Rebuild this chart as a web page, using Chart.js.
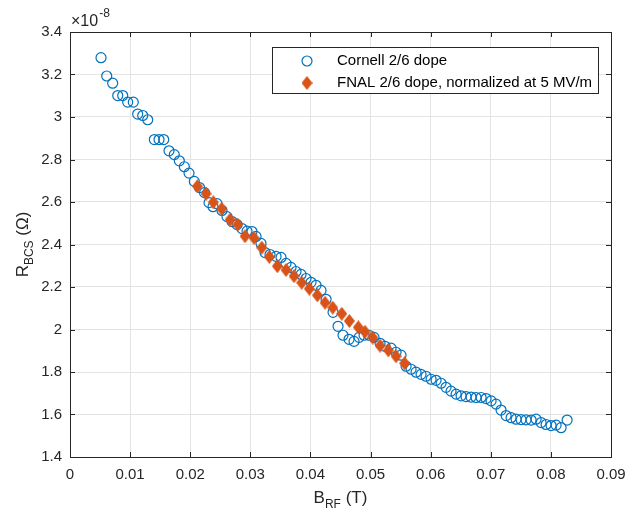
<!DOCTYPE html>
<html>
<head>
<meta charset="utf-8">
<script src="https://cdn.jsdelivr.net/npm/chart.js@4/dist/chart.umd.min.js"></script>
<style>
  html, body { margin: 0; padding: 0; background: #fff; }
  #wrap { width: 630px; height: 512px; }
</style>
</head>
<body>
<div id="wrap"><canvas id="c" width="630" height="512"></canvas></div>
<script>
// ---- Data (R_BCS in units of 1e-8 Ohm) ----
const yExponent = -8;
const xTicks = [0, 0.01, 0.02, 0.03, 0.04, 0.05, 0.06, 0.07, 0.08, 0.09];
const xTickLabels = ['0', '0.01', '0.02', '0.03', '0.04', '0.05', '0.06', '0.07', '0.08', '0.09'];
const yTicks = [1.4, 1.6, 1.8, 2.0, 2.2, 2.4, 2.6, 2.8, 3.0, 3.2, 3.4];
const yTickLabels = ['1.4', '1.6', '1.8', '2', '2.2', '2.4', '2.6', '2.8', '3', '3.2', '3.4'];

const cornellLabel = 'Cornell 2/6 dope';
const cornellB = [0.00516, 0.00611, 0.00710, 0.00794, 0.00877, 0.00960, 0.01053, 0.01126, 0.01210, 0.01293,
  0.01403, 0.01481, 0.01559, 0.01647, 0.01735, 0.01819, 0.01902, 0.01980, 0.02068, 0.02155,
  0.02238, 0.02313, 0.02379, 0.02446, 0.02529, 0.02612, 0.02696, 0.02779, 0.02862, 0.02945,
  0.03028, 0.03095, 0.03178, 0.03245, 0.03328, 0.03428, 0.03511, 0.03594, 0.03677, 0.03760,
  0.03844, 0.03927, 0.04010, 0.04093, 0.04176, 0.04260, 0.04376, 0.04459, 0.04542, 0.04642,
  0.04725, 0.04809, 0.04892, 0.04975, 0.05058, 0.05158, 0.05241, 0.05341, 0.05424, 0.05507,
  0.05591, 0.05674, 0.05757, 0.05840, 0.05923, 0.06007, 0.06090, 0.06173, 0.06256, 0.06339,
  0.06423, 0.06506, 0.06589, 0.06672, 0.06755, 0.06839, 0.06922, 0.07005, 0.07088, 0.07171,
  0.07255, 0.07338, 0.07421, 0.07504, 0.07587, 0.07671, 0.07754, 0.07837, 0.07920, 0.08003,
  0.08087, 0.08170, 0.08270];
const cornellR = [3.279, 3.193, 3.159, 3.101, 3.101, 3.070, 3.070, 3.014, 3.007, 2.987,
  2.894, 2.894, 2.894, 2.841, 2.823, 2.794, 2.766, 2.736, 2.697, 2.668,
  2.644, 2.597, 2.578, 2.592, 2.560, 2.531, 2.508, 2.494, 2.475, 2.463,
  2.461, 2.438, 2.405, 2.362, 2.353, 2.344, 2.339, 2.311, 2.292, 2.273,
  2.259, 2.240, 2.222, 2.208, 2.184, 2.142, 2.081, 2.015, 1.973, 1.954,
  1.944, 1.963, 1.973, 1.973, 1.963, 1.935, 1.921, 1.912, 1.893, 1.879,
  1.827, 1.813, 1.799, 1.789, 1.780, 1.766, 1.761, 1.747, 1.728, 1.710,
  1.696, 1.688, 1.684, 1.682, 1.680, 1.680, 1.675, 1.664, 1.649, 1.621,
  1.595, 1.585, 1.578, 1.576, 1.575, 1.574, 1.578, 1.562, 1.553, 1.548,
  1.550, 1.538, 1.574];

const fnalLabel = 'FNAL 2/6 dope, normalized at 5 MV/m';
const fnalB = [0.02118, 0.02263, 0.02384, 0.02524, 0.02662, 0.02790, 0.02912, 0.03062, 0.03190, 0.03316,
  0.03449, 0.03594, 0.03727, 0.03855, 0.03982, 0.04115, 0.04243, 0.04371, 0.04521, 0.04647,
  0.04797, 0.04908, 0.05037, 0.05158, 0.05296, 0.05424, 0.05566];
const fnalR = [2.674, 2.639, 2.599, 2.568, 2.517, 2.494, 2.439, 2.431, 2.385, 2.342,
  2.298, 2.280, 2.251, 2.220, 2.192, 2.161, 2.126, 2.103, 2.074, 2.040,
  2.010, 1.989, 1.962, 1.924, 1.902, 1.874, 1.841];

// ---- Styles ----
const BLUE = '#0072BD';
const ORANGE = '#D95319';
const AXIS = '#262626';
const FONT = '"Liberation Sans", Arial, Helvetica, sans-serif';

function makeDiamond(w, h, color) {
  const cv = document.createElement('canvas');
  cv.width = w; cv.height = h;
  const g = cv.getContext('2d');
  g.fillStyle = color;
  g.beginPath();
  g.moveTo(w / 2, 0);
  g.lineTo(w, h / 2);
  g.lineTo(w / 2, h);
  g.lineTo(0, h / 2);
  g.closePath();
  g.fill();
  return cv;
}
const diamond = makeDiamond(11, 14, ORANGE);

const toXY = (xs, ys) => xs.map((x, i) => ({ x: x, y: ys[i] }));

const decor = {
  id: 'decor',
  afterDatasetsDraw(chart) {
    const ctx = chart.ctx;
    const a = chart.chartArea;
    const xs = chart.scales.x, ys = chart.scales.y;
    ctx.save();
    // box
    ctx.strokeStyle = AXIS;
    ctx.lineWidth = 1;
    ctx.strokeRect(Math.round(a.left) + 0.5, Math.round(a.top) + 0.5,
      Math.round(a.right - a.left), Math.round(a.bottom - a.top));
    // inner ticks
    const tl = 5;
    ctx.beginPath();
    xTicks.forEach(v => {
      const px = Math.round(xs.getPixelForValue(v)) + 0.5;
      ctx.moveTo(px, a.bottom); ctx.lineTo(px, a.bottom - tl);
      ctx.moveTo(px, a.top); ctx.lineTo(px, a.top + tl);
    });
    yTicks.forEach(v => {
      const py = Math.round(ys.getPixelForValue(v)) + 0.5;
      ctx.moveTo(a.left, py); ctx.lineTo(a.left + tl, py);
      ctx.moveTo(a.right, py); ctx.lineTo(a.right - tl, py);
    });
    ctx.stroke();

    // exponent label
    ctx.fillStyle = AXIS;
    ctx.textBaseline = 'alphabetic';
    ctx.textAlign = 'left';
    ctx.font = '16px ' + FONT;
    ctx.fillText('\u00d710', a.left + 1, 26);
    const w10 = ctx.measureText('\u00d710').width;
    ctx.font = '12px ' + FONT;
    ctx.fillText(String(yExponent), a.left + 1 + w10 + 1, 17);

    // x axis title: B_RF (T)
    ctx.font = '17px ' + FONT;
    const xMain = 'B', xSub = 'RF', xRest = ' (T)';
    const wB = ctx.measureText(xMain).width;
    const wR = ctx.measureText(xRest).width;
    ctx.font = '12px ' + FONT;
    const wS = ctx.measureText(xSub).width;
    let cx = (a.left + a.right) / 2 - (wB + wS + wR) / 2;
    const by = 503;
    ctx.font = '17px ' + FONT;
    ctx.fillText(xMain, cx, by);
    ctx.font = '12px ' + FONT;
    ctx.fillText(xSub, cx + wB, by + 5);
    ctx.font = '17px ' + FONT;
    ctx.fillText(xRest, cx + wB + wS, by);

    // y axis title: R_BCS (Ω)
    ctx.save();
    ctx.translate(28, (a.top + a.bottom) / 2);
    ctx.rotate(-Math.PI / 2);
    ctx.font = '17px ' + FONT;
    const yMain = 'R', ySub = 'BCS', yRest = ' (\u03a9)';
    const wYM = ctx.measureText(yMain).width;
    const wYR = ctx.measureText(yRest).width;
    ctx.font = '12px ' + FONT;
    const wYS = ctx.measureText(ySub).width;
    let cy = -(wYM + wYS + wYR) / 2;
    ctx.font = '17px ' + FONT;
    ctx.fillText(yMain, cy, 0);
    ctx.font = '12px ' + FONT;
    ctx.fillText(ySub, cy + wYM, 5);
    ctx.font = '17px ' + FONT;
    ctx.fillText(yRest, cy + wYM + wYS, 0);
    ctx.restore();

    // legend
    const lx = 272, ly = 47, lw = 326, lh = 46;
    ctx.fillStyle = '#fff';
    ctx.fillRect(lx, ly, lw, lh);
    ctx.strokeStyle = AXIS;
    ctx.lineWidth = 1;
    ctx.strokeRect(lx + 0.5, ly + 0.5, lw, lh);
    ctx.beginPath();
    ctx.strokeStyle = BLUE;
    ctx.lineWidth = 1.2;
    ctx.arc(307, 61, 5, 0, Math.PI * 2);
    ctx.stroke();
    ctx.drawImage(diamond, 307 - diamond.width / 2, 83 - diamond.height / 2);
    ctx.fillStyle = '#000';
    ctx.font = '15px ' + FONT;
    ctx.textBaseline = 'middle';
    ctx.fillText(cornellLabel, 337, 61);
    ctx.fillText(fnalLabel, 337, 83);
    ctx.restore();
  }
};

new Chart(document.getElementById('c'), {
  type: 'scatter',
  data: {
    datasets: [
      {
        label: cornellLabel,
        data: toXY(cornellB, cornellR),
        pointStyle: 'circle',
        pointRadius: 5,
        pointHoverRadius: 5,
        borderColor: BLUE,
        backgroundColor: 'rgba(0,0,0,0)',
        borderWidth: 1.2,
        order: 2
      },
      {
        label: fnalLabel,
        data: toXY(fnalB, fnalR),
        pointStyle: diamond,
        pointRadius: 7,
        borderColor: ORANGE,
        backgroundColor: ORANGE,
        order: 1
      }
    ]
  },
  options: {
    responsive: false,
    animation: false,
    devicePixelRatio: 1,
    layout: { padding: { top: 32, right: 19, left: 0, bottom: 0 } },
    plugins: { legend: { display: false }, tooltip: { enabled: false } },
    scales: {
      x: {
        type: 'linear',
        min: 0, max: 0.09,
        afterBuildTicks: s => { s.ticks = xTicks.map(v => ({ value: v })); },
        afterFit: s => { s.height = 55; s.paddingLeft = 0; s.paddingRight = 0; },
        grid: { color: '#e3e3e3', drawTicks: false, lineWidth: 1 },
        border: { display: false },
        ticks: {
          padding: 9,
          color: AXIS,
          font: { family: FONT, size: 15 },
          maxRotation: 0,
          callback: (v, i) => xTickLabels[i]
        }
      },
      y: {
        type: 'linear',
        min: 1.4, max: 3.4,
        afterBuildTicks: s => { s.ticks = yTicks.map(v => ({ value: v })); },
        afterFit: s => { s.width = 70; s.paddingTop = 0; s.paddingBottom = 0; },
        grid: { color: '#e3e3e3', drawTicks: false, lineWidth: 1 },
        border: { display: false },
        ticks: {
          padding: 8,
          color: AXIS,
          font: { family: FONT, size: 15 },
          callback: (v, i) => yTickLabels[i]
        }
      }
    }
  },
  plugins: [decor]
});
</script>
</body>
</html>
